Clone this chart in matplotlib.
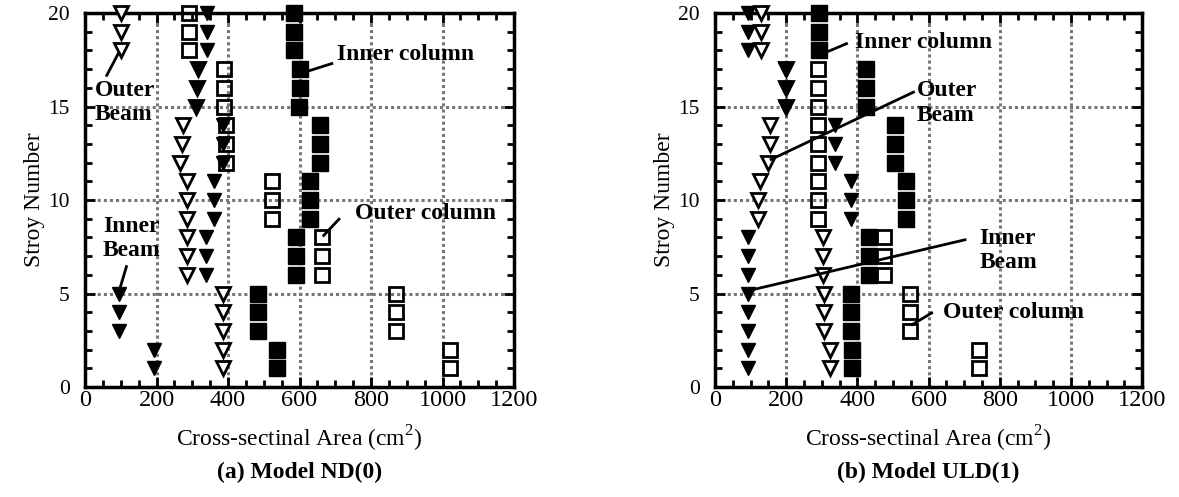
import matplotlib
matplotlib.use('Agg')
import matplotlib.pyplot as plt
from matplotlib.ticker import MultipleLocator

plt.rcParams['font.family'] = ['Liberation Serif', 'DejaVu Serif']
plt.rcParams['mathtext.fontset'] = 'custom'
plt.rcParams['mathtext.rm'] = 'Liberation Serif'

stories = list(range(1, 21))

# Model ND(0)
nd_outer_beam = [385, 385, 385, 385, 385, 285, 285, 285, 286, 286, 284, 266, 272, 273, 310, 312, 317, 100, 100, 100]
nd_inner_beam = [193, 193, 95, 95, 95, 338, 338, 338, 362, 362, 362, 385, 385, 385, 310, 312, 317, 340, 340, 340]
nd_outer_col = [1020, 1020, 870, 870, 870, 662, 662, 662, 522, 522, 522, 395, 395, 395, 390, 390, 390, 290, 290, 290]
nd_inner_col = [538, 538, 485, 485, 485, 590, 590, 590, 628, 628, 628, 657, 657, 657, 598, 600, 600, 585, 585, 585]

# Model ULD(1)
uld_outer_beam = [322, 322, 306, 306, 306, 302, 302, 302, 121, 121, 125, 150, 153, 155, 200, 200, 200, 130, 130, 130]
uld_inner_beam = [93, 93, 93, 93, 93, 93, 93, 93, 383, 383, 383, 336, 336, 336, 196, 196, 196, 93, 93, 93]
uld_outer_col = [743, 743, 549, 549, 549, 474, 474, 474, 290, 290, 290, 290, 290, 290, 290, 290, 290, 292, 292, 292]
uld_inner_col = [386, 386, 381, 381, 381, 433, 433, 433, 537, 537, 537, 507, 507, 507, 425, 425, 425, 292, 292, 292]

x_ticks = [0, 200, 400, 600, 800, 1000, 1200]
y_ticks = [0, 5, 10, 15, 20]

fig = plt.figure(figsize=(11.79, 4.97), dpi=100)
ax1 = fig.add_axes([0.0721, 0.2213, 0.3639, 0.7525])
ax2 = fig.add_axes([0.6065, 0.2213, 0.3622, 0.7525])

XFS = 17.5  # x tick labels
YFS = 15.5  # y tick labels
LFS = 17    # axis labels / annotations


def draw(ax, ob, ib, oc, ic, title):
    ax.set_xlim(0, 1200)
    ax.set_ylim(0, 20)
    ax.set_xticks(x_ticks)
    ax.set_yticks(y_ticks)
    ax.xaxis.set_minor_locator(MultipleLocator(50))
    ax.yaxis.set_minor_locator(MultipleLocator(1))
    ax.tick_params(which='both', direction='in', top=True, right=True, width=2)
    ax.tick_params(which='major', length=7)
    ax.tick_params(which='minor', length=5)
    ax.tick_params(axis='x', which='major', pad=2, labelsize=XFS)
    ax.tick_params(axis='y', which='major', pad=11, labelsize=YFS)
    for s in ax.spines.values():
        s.set_linewidth(2.5)
    ax.grid(True, which='major', color='#777777', linestyle=(0, (1, 1)), linewidth=2.2)
    ax.set_axisbelow(True)
    kw = dict(linestyle='none', clip_on=False)
    ax.plot(ob, stories, marker='v', markersize=9.5, markerfacecolor='white',
            markeredgecolor='black', markeredgewidth=2, zorder=3, **kw)
    ax.plot(oc, stories, marker='s', markersize=9.5, markerfacecolor='none',
            markeredgecolor='black', markeredgewidth=2, zorder=3, **kw)
    ax.plot(ib, stories, marker='v', markersize=10.5, color='black', zorder=4, **kw)
    ax.plot(ic, stories, marker='s', markersize=11.5, color='black', zorder=5, **kw)
    ax.set_ylabel('Stroy Number', fontsize=LFS, labelpad=2)
    ax.set_xlabel('Cross-sectinal Area (cm$^{2}$)', fontsize=LFS, labelpad=9)
    ax.text(0.5, -0.20, title, transform=ax.transAxes, ha='center', va='top',
            fontsize=LFS, fontweight='bold')


draw(ax1, nd_outer_beam, nd_inner_beam, nd_outer_col, nd_inner_col, '(a) Model ND(0)')
draw(ax2, uld_outer_beam, uld_inner_beam, uld_outer_col, uld_inner_col, '(b) Model ULD(1)')

tk = dict(fontsize=LFS, fontweight='bold', va='center', ha='left', zorder=6)
lk = dict(color='black', linewidth=2, solid_capstyle='butt', zorder=6, clip_on=False)

# annotations, panel (a)
ax1.text(705, 17.76, 'Inner column', **tk)
ax1.plot([620, 694], [16.87, 17.32], **lk)
ax1.text(28, 15.2, 'Outer\nBeam', linespacing=1.2, **tk)
ax1.plot([96, 59], [17.94, 16.6], **lk)
ax1.text(50, 7.96, 'Inner\nBeam', linespacing=1.2, **tk)
ax1.plot([117, 96], [6.51, 5.17], **lk)
ax1.text(755, 9.28, 'Outer column', **tk)
ax1.plot([665, 713], [8.05, 9.03], **lk)

# annotations, panel (b)
ax2.text(392, 18.4, 'Inner column', **tk)
ax2.plot([317, 373], [17.94, 18.39], **lk)
ax2.text(566, 15.19, 'Outer\nBeam', linespacing=1.2, **tk)
ax2.plot([154, 561], [12.14, 15.8], **lk)
ax2.text(743, 7.32, 'Inner\nBeam', linespacing=1.2, **tk)
ax2.plot([98, 706], [5.17, 7.89], **lk)
ax2.text(640, 3.96, 'Outer column', **tk)
ax2.plot([551, 612], [3.3, 4.0], **lk)

fig.savefig('out.png', dpi=100)
